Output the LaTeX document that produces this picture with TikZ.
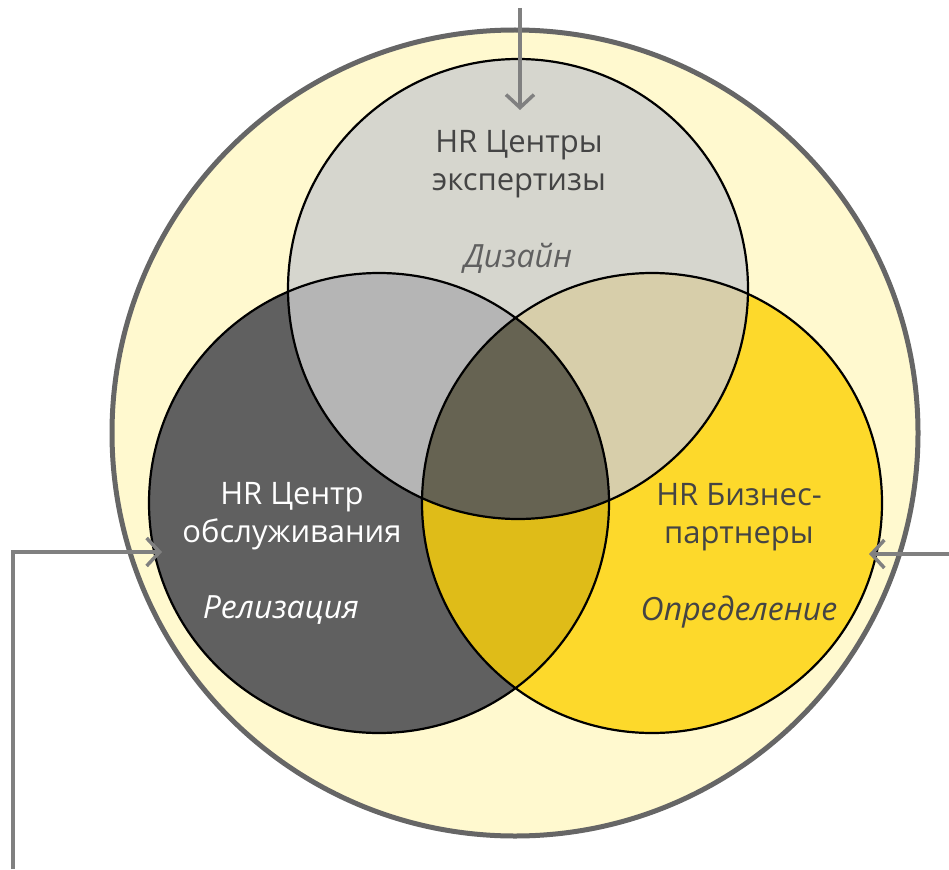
\documentclass[tikz,border=0pt]{standalone}
\usepackage{fontspec}
\setmainfont{Open Sans}
\usetikzlibrary{positioning,arrows.meta}

\definecolor{outerfill}{HTML}{FFF9CF}
\definecolor{outerline}{HTML}{666666}
\definecolor{expfill}{HTML}{D6D6CE}
\definecolor{servfill}{HTML}{606060}
\definecolor{bpfill}{HTML}{FDD92B}
\definecolor{expserv}{HTML}{B5B5B5}
\definecolor{expbp}{HTML}{D7CEAA}
\definecolor{servbp}{HTML}{DFBC18}
\definecolor{allthree}{HTML}{666352}
\definecolor{pointergray}{HTML}{808080}
\definecolor{darktext}{HTML}{444444}

\tikzset{
  venn/.style={draw=black, line width=2.2pt},
  lbl/.style={font=\fontsize{31}{38}\selectfont, align=center, inner sep=0pt},
  role/.style={font=\fontsize{32}{38}\selectfont\itshape, inner sep=0pt},
  pointer/.style={draw=pointergray, line width=3.5pt,
    -{Straight Barb[length=13pt,width=28pt]}}
}

\begin{document}
\begin{tikzpicture}[x=1pt,y=-1pt]
    \useasboundingbox (0,0) rectangle (949,869);
    \coordinate (couter) at (515,433);
    \coordinate (ctop) at (518,289);
    \coordinate (cleft) at (379,503);
    \coordinate (cright) at (652,503);

    % outer circle
    \draw[fill=outerfill, draw=outerline, line width=5pt] (couter) circle (403pt);

    % the three circles
    \fill[expfill] (ctop) circle (230pt);
    \fill[servfill] (cleft) circle (230pt);
    \fill[bpfill] (cright) circle (230pt);

    % overlaps
    \begin{scope}
      \clip (ctop) circle (230pt);
      \fill[expserv] (cleft) circle (230pt);
      \fill[expbp] (cright) circle (230pt);
    \end{scope}
    \begin{scope}
      \clip (cleft) circle (230pt);
      \fill[servbp] (cright) circle (230pt);
      \clip (cright) circle (230pt);
      \fill[allthree] (ctop) circle (230pt);
    \end{scope}

    \draw[venn] (ctop) circle (230pt);
    \draw[venn] (cleft) circle (230pt);
    \draw[venn] (cright) circle (230pt);

    % labels
    \node[lbl, text=darktext, anchor=base] (expname) at (519,190) {HR Центры\\экспертизы};
    \node[role, text=darktext!85, anchor=base] (exprole) at (518,267) {Дизайн};
    \node[lbl, text=white, anchor=base] (servname) at (292,542) {HR Центр\\обслуживания};
    \node[role, text=white, anchor=base] (servrole) at (281,618) {Релизация};
    \node[lbl, text=darktext, anchor=base] (bpname) at (739,543) {HR Бизнес-\\партнеры};
    \node[role, text=darktext, anchor=base] (bprole) at (739,620) {Определение};

    % pointers
    \coordinate (toptail) at (520,8);
    \coordinate (toptip) at (520,110);
    \coordinate (lefttail) at (13,869);
    \coordinate (lefttip) at (162,552);
    \coordinate (righttail) at (949,554);
    \coordinate (righttip) at (869,554);
    \draw[pointer] (toptail) -- (toptip);
    \draw[pointer] (lefttail) |- (lefttip);
    \draw[pointer] (righttail) -- (righttip);
\end{tikzpicture}
\end{document}
